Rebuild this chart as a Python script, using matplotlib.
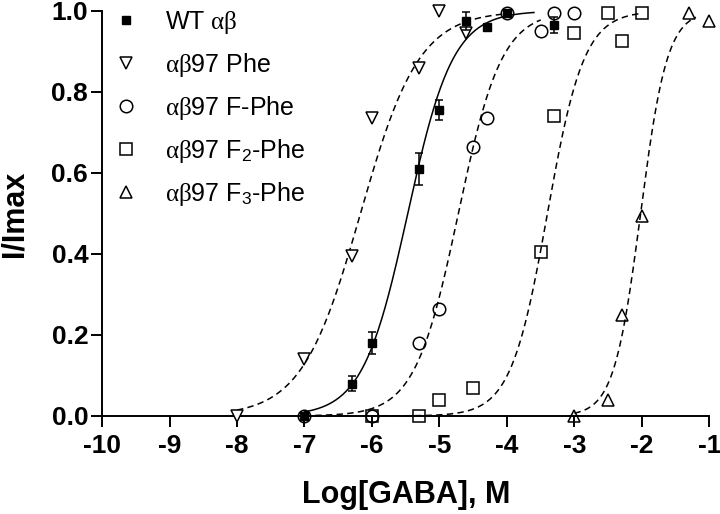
import numpy as np
import matplotlib
matplotlib.use("Agg")
import matplotlib.pyplot as plt

plt.rcParams['font.family'] = ['Liberation Sans', 'DejaVu Sans']
plt.rcParams['mathtext.fontset'] = 'custom'
plt.rcParams['mathtext.rm'] = 'Liberation Serif'
plt.rcParams['mathtext.it'] = 'Liberation Serif:italic'
plt.rcParams['mathtext.sf'] = 'Liberation Sans'
plt.rcParams['axes.unicode_minus'] = False

# data: log[GABA] (M) vs normalised current
wt_x = [-7, -6.3, -6, -5.3, -5, -4.6, -4.3, -4, -3.3]
wt_y = [0.0, 0.08, 0.18, 0.61, 0.755, 0.975, 0.96, 0.995, 0.965]
wt_err = [0.005, 0.018, 0.028, 0.04, 0.025, 0.022, 0.005, 0.005, 0.02]

phe_x = [-8, -7, -6.3, -6, -5.3, -5, -4.6]
phe_y = [0.0, 0.14, 0.395, 0.735, 0.86, 1.0, 0.945]

fphe_x = [-7, -6, -5.3, -5, -4.5, -4.3, -4, -3.5, -3.3, -3]
fphe_y = [0.0, 0.0, 0.18, 0.265, 0.665, 0.735, 0.995, 0.95, 0.995, 0.995]

f2phe_x = [-6, -5.3, -5, -4.5, -3.5, -3.3, -3, -2.5, -2.3, -2]
f2phe_y = [0.0, 0.0, 0.04, 0.068, 0.405, 0.74, 0.945, 0.995, 0.925, 0.995]

f3phe_x = [-3, -2.5, -2.3, -2, -1.3, -1]
f3phe_y = [0.0, 0.04, 0.25, 0.495, 0.995, 0.975]

# Hill fits: (logEC50, Hill slope, x start, x end)
wt_fit = (-5.47, 1.3, -7, -3.6)
phe_fit = (-6.17, 1.0, -8, -4.0)
fphe_fit = (-4.72, 1.35, -7, -3.5)
f2phe_fit = (-3.4, 1.6, -6, -2.0)
f3phe_fit = (-2.02, 2.2, -3, -1.2)

labels = [r'WT $\mathrm{\alpha\beta}$',
          r'$\mathrm{\alpha\beta}$97 Phe',
          r'$\mathrm{\alpha\beta}$97 F-Phe',
          r'$\mathrm{\alpha\beta}$97 F$_\mathsf{2}$-Phe',
          r'$\mathrm{\alpha\beta}$97 F$_\mathsf{3}$-Phe']


def hill(fit):
    ec50, n, x0, x1 = fit
    xs = np.linspace(x0, x1, 200)
    return xs, 1.0 / (1.0 + 10 ** ((ec50 - xs) * n))


fig = plt.figure(figsize=(7.2, 5.14), dpi=100)
ax = fig.add_axes([0.1417, 0.1907, 0.8436, 0.7879])

dash = (0, (4.2, 2.8))
lw = 1.1
ms = 9
mew = 1.1

# fitted curves
xs, ys = hill(wt_fit)
ax.plot(xs, ys, color='black', lw=lw, clip_on=False)
for fit in [phe_fit, fphe_fit, f2phe_fit, f3phe_fit]:
    xs, ys = hill(fit)
    ax.plot(xs, ys, color='black', lw=lw, linestyle=dash, clip_on=False)

# data points
ax.errorbar(wt_x, wt_y, yerr=wt_err, fmt='s', color='black', ms=6,
            capsize=3, elinewidth=1.1, capthick=1.1, clip_on=False, zorder=4)
ax.plot(phe_x, phe_y, 'v', mfc='white', mec='black', ms=ms, mew=mew,
        clip_on=False, zorder=3)
ax.plot(fphe_x, fphe_y, 'o', mfc='none', mec='black', ms=ms, mew=mew,
        clip_on=False, zorder=3)
ax.plot(f2phe_x, f2phe_y, 's', mfc='none', mec='black', ms=ms, mew=mew,
        clip_on=False, zorder=3)
ax.plot(f3phe_x, f3phe_y, '^', mfc='none', mec='black', ms=ms, mew=mew,
        clip_on=False, zorder=3)

# legend handles (markers only)
lh = [plt.Line2D([], [], ls='none', marker='s', color='black', ms=6),
      plt.Line2D([], [], ls='none', marker='v', mfc='white', mec='black', ms=ms, mew=mew),
      plt.Line2D([], [], ls='none', marker='o', mfc='none', mec='black', ms=ms, mew=mew),
      plt.Line2D([], [], ls='none', marker='s', mfc='none', mec='black', ms=ms, mew=mew),
      plt.Line2D([], [], ls='none', marker='^', mfc='none', mec='black', ms=ms, mew=mew)]
fig.legend(lh, labels, loc='upper left', bbox_to_anchor=(115 / 720, 1 - 9 / 514),
           frameon=False, fontsize=18, handlelength=0.9, handletextpad=1.1,
           labelspacing=0.6, borderpad=0, borderaxespad=0)

ax.set_xlim(-10, -1)
ax.set_ylim(0, 1.0)
ax.set_xticks(range(-10, 0))
ax.set_yticks([0.0, 0.2, 0.4, 0.6, 0.8, 1.0])
ax.set_yticklabels(['0.0', '0.2', '0.4', '0.6', '0.8', '1.0'])
for side in ['top', 'right']:
    ax.spines[side].set_visible(False)
for side in ['left', 'bottom']:
    ax.spines[side].set_linewidth(1.4)
ax.tick_params(axis='both', direction='out', length=8, width=1.4,
               labelsize=19)
ax.tick_params(axis='x', pad=5)
ax.tick_params(axis='y', pad=2)
for lab in ax.get_xticklabels() + ax.get_yticklabels():
    lab.set_fontweight('bold')

ax.set_xlabel('Log[GABA], M', fontsize=22, fontweight='bold', labelpad=16)
ax.set_ylabel('I/Imax', fontsize=22, fontweight='bold', labelpad=16)

plt.savefig('out.png', dpi=100)
